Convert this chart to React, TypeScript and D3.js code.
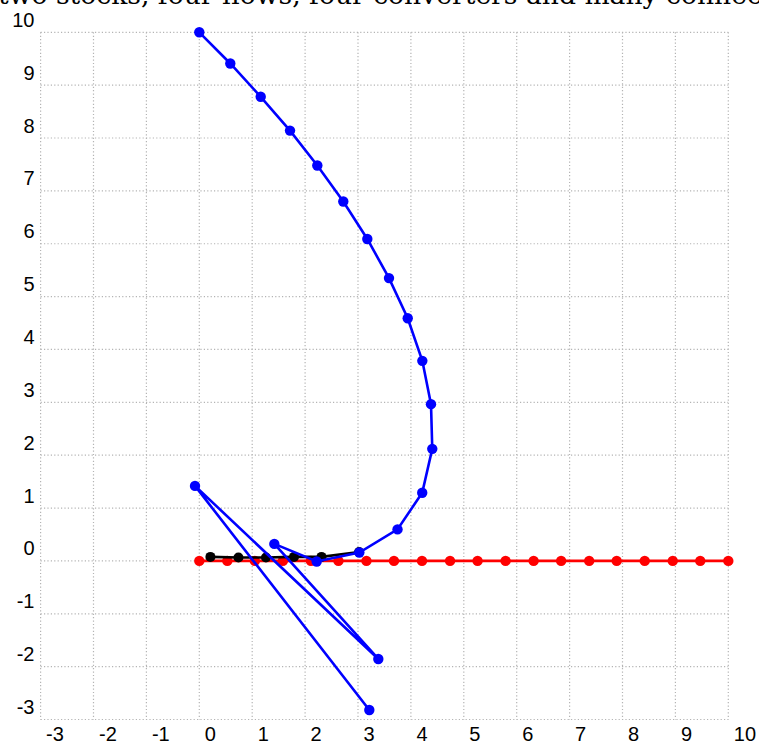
import React from "react";
import * as d3 from "d3";

const W = 759;
const H = 744;

const TITLE = "two stocks, four flows, four converters and many connectors";

const ticks = [-3, -2, -1, 0, 1, 2, 3, 4, 5, 6, 7, 8, 9, 10];

// red series (stock at zero)
const redX = [0, 0.53, 1.05, 1.58, 2.11, 2.63, 3.16, 3.68, 4.21, 4.74, 5.26, 5.79, 6.32, 6.84, 7.37, 7.89, 8.42, 8.95, 9.47, 10];
const redY = [0, 0, 0, 0, 0, 0, 0, 0, 0, 0, 0, 0, 0, 0, 0, 0, 0, 0, 0, 0];

// black series
const blackX = [0.21, 0.74, 1.26, 1.79, 2.31, 3.02];
const blackY = [0.076, 0.064, 0.064, 0.076, 0.076, 0.17];

// blue series
const blueX = [0, 0.586, 1.161, 1.715, 2.231, 2.722, 3.176, 3.586, 3.94, 4.216, 4.38, 4.404, 4.214, 3.747, 3.025, 2.219, 1.418, 3.384, -0.081, 3.214];
const blueY = [10, 9.41, 8.78, 8.14, 7.48, 6.8, 6.09, 5.35, 4.59, 3.785, 2.966, 2.12, 1.29, 0.596, 0.159, -0.011, 0.322, -1.855, 1.419, -2.82];

export default function App() {
  const x = d3.scaleLinear().domain([-3, 10]).range([40.6, 728.3]);
  const y = d3.scaleLinear().domain([-3, 10]).range([719.5, 32.3]);
  const line = d3
    .line<[number, number]>()
    .x((d) => x(d[0]))
    .y((d) => y(d[1]));

  const series = [
    { xs: redX, ys: redY, color: "#ff0000", r: 5.2 },
    { xs: blackX, ys: blackY, color: "#000000", r: 5 },
    { xs: blueX, ys: blueY, color: "#0000ff", r: 5.2 },
  ];

  return (
    <svg
      width={W}
      height={H}
      style={{ position: "absolute", left: 0, top: 0, background: "#fff" }}
    >
      <rect x={0} y={0} width={W} height={H} fill="#fff" />
      <text
        x={-2}
        y={4}
        fontFamily="DejaVu Serif"
        fontSize={26.6}
        fill="#000"
      >
        {TITLE}
      </text>
      <g stroke="#b4b4b4" strokeWidth={1.2} strokeDasharray="1.2,2.2">
        {ticks.map((t) => (
          <line key={"v" + t} x1={x(t)} x2={x(t)} y1={y(10)} y2={y(-3)} />
        ))}
        {ticks.map((t) => (
          <line key={"h" + t} x1={x(-3)} x2={x(10)} y1={y(t)} y2={y(t)} />
        ))}
      </g>
      <g fontFamily="Liberation Sans, Arial, sans-serif" fontSize={20} fill="#000">
        {ticks.map((t) => (
          <text key={"xl" + t} x={x(t) + 5.5} y={741} textAnchor="start">
            {t}
          </text>
        ))}
        {ticks.map((t) => (
          <text key={"yl" + t} x={34.5} y={y(t) - 5.5} textAnchor="end">
            {t}
          </text>
        ))}
      </g>
      {series.map((s, si) => {
        const pts: [number, number][] = s.xs.map((v, i) => [v, s.ys[i]]);
        return (
          <g key={si}>
            <path d={line(pts) || ""} fill="none" stroke={s.color} strokeWidth={2.6} />
            {pts.map((p, i) => (
              <circle key={i} cx={x(p[0])} cy={y(p[1])} r={s.r} fill={s.color} />
            ))}
          </g>
        );
      })}
    </svg>
  );
}
